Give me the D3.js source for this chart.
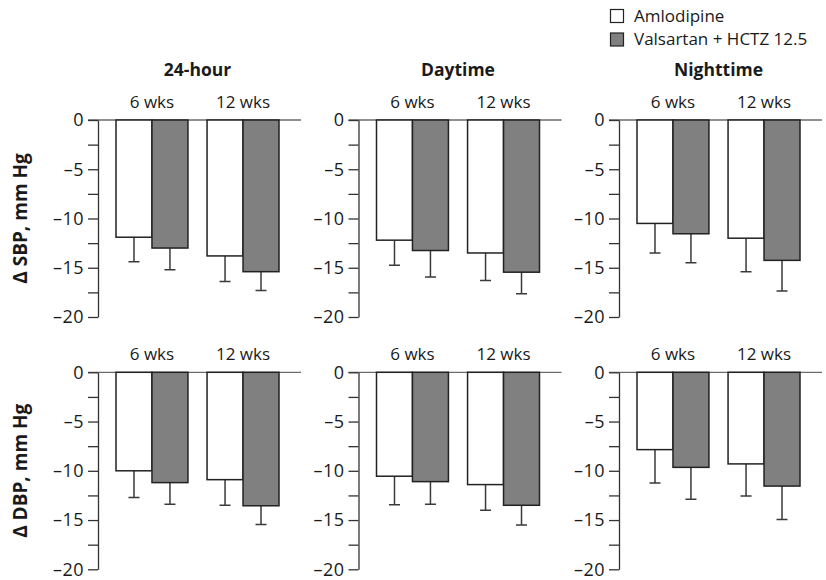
<html>
<head>
<meta charset="utf-8">
<title>ABPM change by treatment</title>
<style>
  body { margin: 0; background: #fff; }
  svg text { font-family: "Open Sans", Lato, sans-serif; fill: #1a1a1a; }
</style>
</head>
<body>
<script src="https://d3js.org/d3.v7.min.js"></script>
<script>

// categories
var windows = ['24-hour', 'Daytime', 'Nighttime'];
var measures = ['\u0394 SBP, mm Hg', '\u0394 DBP, mm Hg'];
var weeks = ['6 wks', '12 wks'];
var treatments = ['Amlodipine', 'Valsartan + HCTZ 12.5'];
var yTicks = [0, -2.5, -5, -7.5, -10, -12.5, -15, -17.5, -20];

// mean change, one row per window, [6 wks, 12 wks]
var sbpAmlodipine = [[-11.9, -13.8], [-12.2, -13.5], [-10.5, -12.0]];
var sbpValsartan  = [[-13.0, -15.4], [-13.25, -15.45], [-11.55, -14.25]];
var dbpAmlodipine = [[-10.0, -10.9], [-10.55, -11.4], [-7.85, -9.3]];
var dbpValsartan  = [[-11.2, -13.55], [-11.1, -13.5], [-9.65, -11.55]];

// error bar lengths (drawn downward only)
var sbpAmlodipineErr = [[2.5, 2.6], [2.55, 2.8], [3.0, 3.4]];
var sbpValsartanErr  = [[2.2, 1.9], [2.7, 2.2], [2.95, 3.1]];
var dbpAmlodipineErr = [[2.7, 2.6], [2.9, 2.6], [3.4, 3.25]];
var dbpValsartanErr  = [[2.2, 1.9], [2.3, 2.0], [3.25, 3.4]];

var values = [[sbpAmlodipine, sbpValsartan], [dbpAmlodipine, dbpValsartan]];
var errors = [[sbpAmlodipineErr, sbpValsartanErr], [dbpAmlodipineErr, dbpValsartanErr]];
var fills = ['#ffffff', '#808080'];

var w = 826, h = 580;

var svg = d3.select('body').append('svg')
    .attr('width', w)
    .attr('height', h);

// panel origins (x of the y axis) and row tops (y of zero)
var xPanel = d3.scaleBand().domain(windows).range([98, 98 + 3 * 260.5]);
var yRow = d3.scaleBand().domain(measures).range([120, 120 + 2 * 252.3]);
var panelH = 197;

// within a panel
var xWeek = d3.scaleBand().domain(weeks).range([18, 181]).paddingInner(0.21);
var xTreat = d3.scaleBand().domain(treatments).range([0, xWeek.bandwidth()]);
var y = d3.scaleLinear().domain([-20, 0]).range([panelH, 0]);

// long dash for negatives, like the printed figure
var tickFmt = function(d){
  if (d % 5 !== 0) return '';
  return d < 0 ? '\u2013' + Math.abs(d) : String(d);
};

measures.forEach(function(m, mi){
  windows.forEach(function(win, wi){
    var g = svg.append('g')
        .attr('transform', 'translate(' + xPanel(win) + ',' + yRow(m) + ')');

    // zero baseline across the panel
    g.append('line')
        .attr('x1', -10).attr('x2', 203)
        .attr('y1', y(0)).attr('y2', y(0))
        .attr('stroke', '#6b6b6b')
        .attr('stroke-width', 1.3);

    var axis = d3.axisLeft(y)
        .tickValues(yTicks)
        .tickSize(10)
        .tickSizeOuter(0)
        .tickPadding(4)
        .tickFormat(tickFmt);

    var ax = g.append('g').call(axis);
    ax.select('.domain').attr('stroke', '#333').attr('stroke-width', 1.3);
    ax.selectAll('.tick line').attr('stroke', '#333').attr('stroke-width', 1.3);
    ax.selectAll('.tick text')
        .attr('font-size', 18)
        .style('font-family', '"Open Sans", sans-serif')
        .attr('letter-spacing', 0.5)
        .attr('fill', '#1a1a1a');

    // week labels
    g.selectAll('.wk')
        .data(weeks)
        .enter()
        .append('text')
        .attr('x', function(d){ return xWeek(d) + xWeek.bandwidth() / 2; })
        .attr('y', y(0) - 12)
        .attr('text-anchor', 'middle')
        .attr('font-size', 17)
        .text(function(d){ return d; });

    treatments.forEach(function(t, ti){
      var vals = values[mi][ti][wi];
      var errs = errors[mi][ti][wi];
      var data = weeks.map(function(wk, k){
        return {week: wk, v: vals[k], e: errs[k]};
      });

      var cx = function(d){ return xWeek(d.week) + xTreat(t) + xTreat.bandwidth() / 2; };

      // error bars
      g.selectAll('.err' + ti)
          .data(data)
          .enter()
          .append('path')
          .attr('d', function(d){
            var x = cx(d), y1 = y(d.v), y2 = y(d.v - d.e);
            return 'M' + x + ',' + y1 + 'V' + y2 + 'M' + (x - 5.5) + ',' + y2 + 'H' + (x + 5.5);
          })
          .attr('fill', 'none')
          .attr('stroke', '#3a3a3a')
          .attr('stroke-width', 1.5);

      g.selectAll('.bar' + ti)
          .data(data)
          .enter()
          .append('rect')
          .attr('x', function(d){ return xWeek(d.week) + xTreat(t); })
          .attr('y', y(0))
          .attr('width', xTreat.bandwidth())
          .attr('height', function(d){ return y(d.v) - y(0); })
          .attr('fill', fills[ti])
          .attr('stroke', '#222')
          .attr('stroke-width', 1.5);
    });

    // window titles on the top row only
    if (mi === 0) {
      g.append('text')
          .attr('x', (xWeek.range()[0] + xWeek.range()[1]) / 2)
          .attr('y', -44)
          .attr('text-anchor', 'middle')
          .attr('font-size', 17.5)
          .attr('font-weight', 'bold')
          .text(win);
    }
  });

  // row label
  svg.append('text')
      .attr('transform', 'translate(27,' + (yRow(m) + panelH / 2) + ') rotate(-90)')
      .attr('text-anchor', 'middle')
      .attr('font-size', 19)
      .attr('font-weight', 'bold')
      .text(m);
});

// legend
var legend = svg.append('g').attr('transform', 'translate(610,9)');
treatments.forEach(function(t, i){
  legend.append('rect')
      .attr('x', 0.5).attr('y', i * 23.5 + 0.5)
      .attr('width', 13).attr('height', 13)
      .attr('fill', fills[i])
      .attr('stroke', '#222')
      .attr('stroke-width', 1.2);
  legend.append('text')
      .attr('x', 24).attr('y', i * 23.5 + 12.5)
      .attr('font-size', 17)
      .text(t);
});

</script>
</body>
</html>
